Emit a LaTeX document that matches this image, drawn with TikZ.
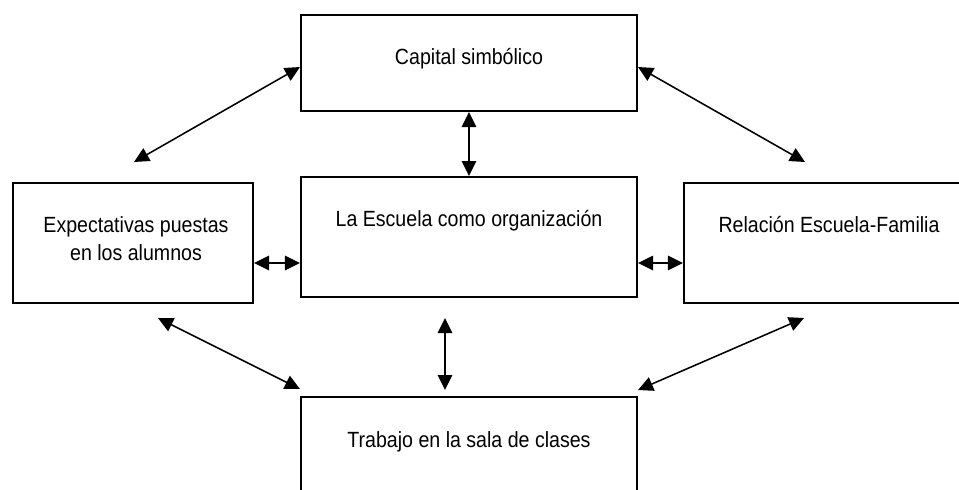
\documentclass[tikz,border=0pt]{standalone}
\usepackage{fontspec}
\setmainfont{Liberation Sans}[FakeStretch=0.89]
\usepackage{tikz}
\usetikzlibrary{arrows.meta}
\tikzset{>={Triangle[length=0.375cm, width=0.36cm]}}
\tikzset{
    box/.style={draw, line width=1.4pt, inner sep=0pt},
    txt/.style={anchor=base, align=center, inner sep=0pt, font=\fontsize{15.65pt}{19.9pt}\selectfont},
    link/.style={<->, line width=1.1pt}
}

\begin{document}
\begin{tikzpicture}[x=0.025cm, y=-0.025cm]
    \useasboundingbox (0, 0) rectangle (959, 489);
    \node [box, minimum width=8.4cm, minimum height=2.4cm] (cap) at (469, 63) {};
    \node [box, minimum width=8.4cm, minimum height=3cm] (esc) at (469, 237) {};
    \node [box, minimum width=6cm, minimum height=3cm] (exp) at (133, 243) {};
    \node [box, minimum width=7.25cm, minimum height=3cm] (rel) at (829, 243) {};
    \node [box, minimum width=8.4cm, minimum height=2.4cm] (tra) at (469, 445) {};
    \node [txt] (cap txt) at (469, 64) {Capital simbólico};
    \node [txt] (esc txt) at (469, 226) {La Escuela como organización};
    \node [txt] (exp txt) at (136, 260) {Expectativas puestas\\en los alumnos};
    \node [txt] (rel txt) at (829, 232) {Relación Escuela-Familia};
    \node [txt] (tra txt) at (469, 447) {Trabajo en la sala de clases};
    \coordinate (exp up) at (134, 162);
    \coordinate (rel up) at (805, 162);
    \coordinate (exp dn) at (158, 318);
    \coordinate (esc dn) at (445, 318);
    \coordinate (rel dn) at (804, 318);
    \coordinate (tra up) at (445, 390);
    \draw [link] (exp up) -- ([yshift=-0.1cm]cap.west);
    \draw [link] ([yshift=-0.1cm]cap.east) -- (rel up);
    \draw [link] (cap.south) -- (esc.north);
    \draw [link] ([yshift=-0.5cm]exp.east) -- ([yshift=-0.65cm]esc.west);
    \draw [link] ([yshift=-0.65cm]esc.east) -- ([yshift=-0.5cm]rel.west);
    \draw [link] (exp dn) -- ([yshift=0.175cm]tra.north west);
    \draw [link] (esc dn) -- (tra up);
    \draw [link] (rel dn) -- ([yshift=0.15cm]tra.north east);
\end{tikzpicture}
\end{document}
